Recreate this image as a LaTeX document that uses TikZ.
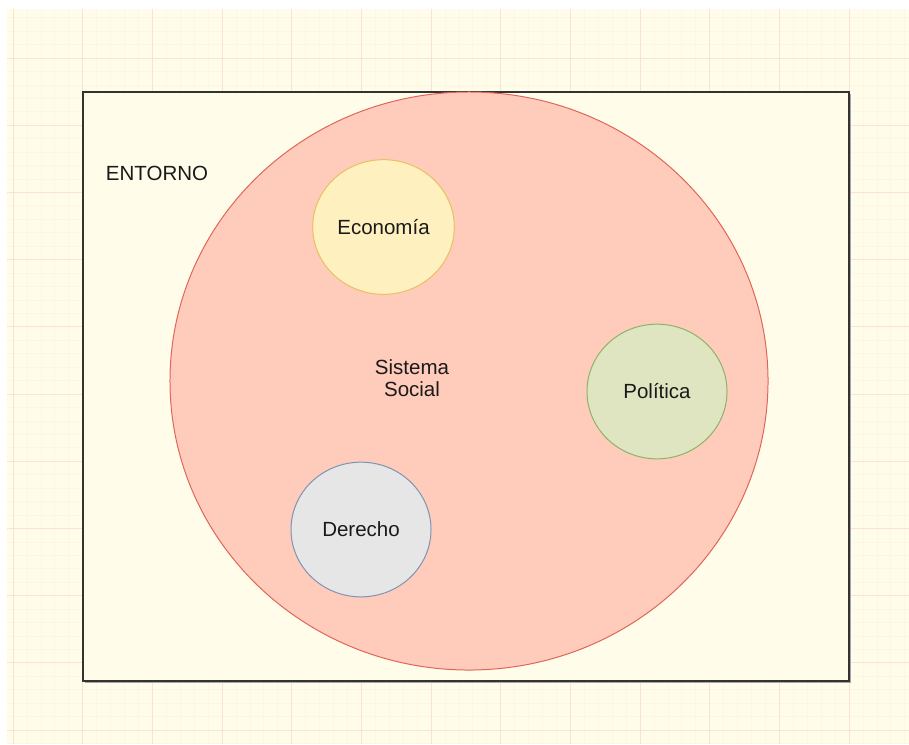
\documentclass[tikz,border=0pt]{standalone}
\usepackage{fontspec}
\setmainfont{Liberation Sans}
\usetikzlibrary{shapes.geometric}

\definecolor{paper}{HTML}{FFFDE9}
\definecolor{minorline}{HTML}{FDF6E2}
\definecolor{majorline}{HTML}{FAE3D4}
\definecolor{socialfill}{HTML}{FFCBBA}
\definecolor{socialdraw}{HTML}{E0655A}
\definecolor{ecofill}{HTML}{FFF0C0}
\definecolor{ecodraw}{HTML}{E8C060}
\definecolor{polfill}{HTML}{E0E5C1}
\definecolor{poldraw}{HTML}{8CB468}
\definecolor{derfill}{HTML}{E6E6E6}
\definecolor{derdraw}{HTML}{7F93B5}
\definecolor{textcol}{HTML}{1A1A1A}

\begin{document}
\begin{tikzpicture}[x=0.03cm,y=-0.03cm,
	font=\fontsize{17.5}{21}\selectfont, text=textcol]
	\useasboundingbox (0,0) rectangle (909,744);
	\fill[paper] (7,9) rectangle (909,744);
	% grid
	\begin{scope}
	\clip (7,9) rectangle (909,744);
	\foreach \k in {0,...,64}
		\draw[minorline, line width=0.6pt] ({13+13.933*\k},9) -- ({13+13.933*\k},744);
	\foreach \k in {-3,...,51}
		\draw[minorline, line width=0.6pt] (7,{58+13.44*\k}) -- (909,{58+13.44*\k});
	\foreach \k in {0,...,12}
		\draw[majorline, line width=0.8pt] ({13+69.67*\k},9) -- ({13+69.67*\k},744);
	\foreach \k in {-1,...,10}
		\draw[majorline, line width=0.8pt] (7,{58+67.2*\k}) -- (909,{58+67.2*\k});
	\end{scope}

	\tikzstyle{SubSystem}=[ellipse, line width=0.85pt, minimum width=4.2cm, minimum height=4.04cm]

	% entorno
	\fill[black!35] (85,94) rectangle (851,683);
	\node[draw=black!80, fill=paper, line width=1.1pt, rectangle, inner sep=0pt,
		minimum width=22.98cm, minimum height=17.67cm] (entorno) at (466,386.5) {};
	\node (entornolabel) at (157,173) {ENTORNO};

	% sistema social
	\node[ellipse, draw=socialdraw, fill=socialfill, line width=0.85pt, inner sep=0pt,
		minimum width=17.94cm, minimum height=17.34cm] (sistema) at (469,381) {};
	\node[align=center] (sistemalabel) at (412,378) {Sistema\\[-2pt]Social};

	% subsistemas
	\node[SubSystem, draw=ecodraw, fill=ecofill] (economia) at (383.5,227) {Economía};
	\node[SubSystem, draw=poldraw, fill=polfill] (politica) at (657,391.5) {Política};
	\node[SubSystem, draw=derdraw, fill=derfill] (derecho) at (361,529.5) {Derecho};
\end{tikzpicture}
\end{document}
